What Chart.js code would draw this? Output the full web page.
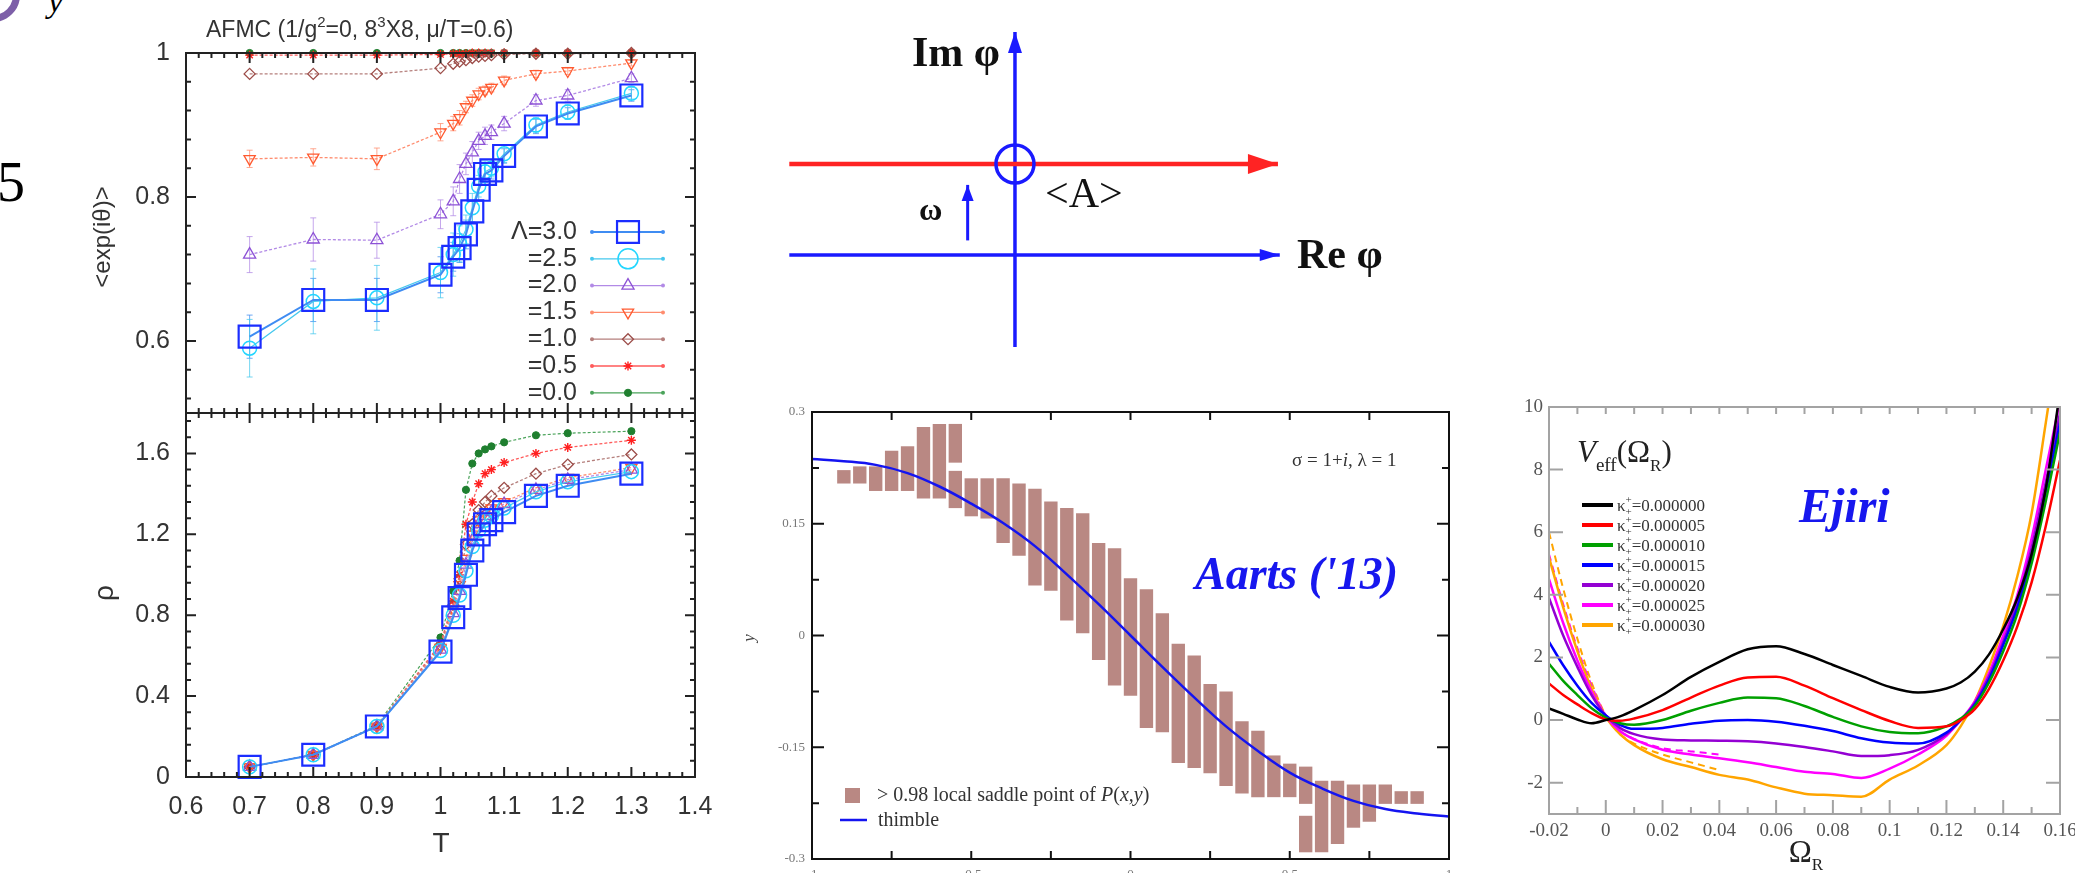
<!DOCTYPE html>
<html>
<head>
<meta charset="utf-8">
<script src="https://cdn.jsdelivr.net/npm/chart.js@4.4.1/dist/chart.umd.min.js"></script>
<style>
  html, body { margin: 0; padding: 0; background: #fff; }
  body { width: 2075px; height: 873px; position: relative; overflow: hidden; }
  canvas { position: absolute; }
  .slide { position: absolute; color: #000; font-family: 'Liberation Serif', serif; line-height: 1; }
  #ring { position: absolute; left: -34px; top: -32px; width: 40px; height: 40px; border: 7px solid #7d5fa8; border-radius: 50%; }
</style>
</head>
<body>
<div id="ring"></div>
<div class="slide" style="left:48px;top:-16px;font-size:34px;font-style:italic">y</div>
<div class="slide" style="left:-3px;top:154px;font-size:56px">5</div>

<canvas id="phase" width="760" height="420" style="left:0;top:0"></canvas>
<canvas id="rho" width="760" height="468" style="left:0;top:405px"></canvas>
<canvas id="plane" width="660" height="380" style="left:760px;top:0"></canvas>
<canvas id="aarts" width="800" height="493" style="left:700px;top:380px"></canvas>
<canvas id="ejiri" width="595" height="503" style="left:1480px;top:370px"></canvas>

<script>
// ---------- AFMC panel: phase factor and density vs T ----------
const T = [0.7, 0.8, 0.9, 1.0, 1.02, 1.03, 1.04, 1.05, 1.06, 1.07, 1.08, 1.1, 1.15, 1.2, 1.3];
const lambdas = ['3.0', '2.5', '2.0', '1.5', '1.0', '0.5', '0.0'];

const phase30 = [0.606, 0.657, 0.657, 0.692, 0.717, 0.729, 0.748, 0.78, 0.81, 0.832, 0.837, 0.857, 0.898, 0.916, 0.941];
const phase25 = [0.59, 0.655, 0.66, 0.695, 0.72, 0.735, 0.755, 0.785, 0.815, 0.835, 0.84, 0.86, 0.9, 0.918, 0.944];
const phase20 = [0.72, 0.741, 0.74, 0.776, 0.794, 0.825, 0.846, 0.862, 0.878, 0.885, 0.89, 0.902, 0.934, 0.941, 0.965];
const phase15 = [0.853, 0.855, 0.853, 0.89, 0.902, 0.91, 0.925, 0.934, 0.943, 0.948, 0.952, 0.962, 0.971, 0.975, 0.986];
const phase10 = [0.971, 0.971, 0.971, 0.979, 0.985, 0.988, 0.99, 0.993, 0.995, 0.996, 0.997, 0.998, 0.999, 0.999, 1.0];
const phase05 = [0.997, 0.997, 0.997, 0.998, 0.999, 0.999, 0.999, 1, 1, 1, 1, 1, 1, 1, 1];
const phase00 = [1, 1, 1, 1, 1, 1, 1, 1, 1, 1, 1, 1, 1, 1, 1];

const err30 = [0.03, 0.03, 0.03, 0.025, 0.02, 0.02, 0.02, 0.015, 0.015, 0.012, 0.012, 0.01, 0.01, 0.008, 0.008];
const err25 = [0.04, 0.045, 0.045, 0.035, 0.03, 0.025, 0.02, 0.02, 0.015, 0.015, 0.012, 0.012, 0.01, 0.01, 0.008];
const err20 = [0.025, 0.03, 0.025, 0.02, 0.02, 0.02, 0.015, 0.015, 0.012, 0.012, 0.01, 0.01, 0.008, 0.008, 0.006];
const err15 = [0.012, 0.012, 0.015, 0.012, 0.01, 0.01, 0.008, 0.008, 0.008, 0.006, 0.006, 0.006, 0.005, 0.005, 0.004];

const rho30 = [0.05, 0.11, 0.25, 0.62, 0.79, 0.885, 1.0, 1.12, 1.2, 1.25, 1.27, 1.31, 1.39, 1.44, 1.5];
const rho25 = [0.05, 0.11, 0.25, 0.625, 0.8, 0.9, 1.02, 1.14, 1.22, 1.27, 1.29, 1.33, 1.41, 1.46, 1.51];
const rho20 = [0.05, 0.11, 0.25, 0.63, 0.81, 0.92, 1.05, 1.17, 1.25, 1.29, 1.31, 1.35, 1.42, 1.47, 1.52];
const rho15 = [0.05, 0.11, 0.25, 0.64, 0.83, 0.95, 1.08, 1.2, 1.27, 1.31, 1.33, 1.36, 1.43, 1.48, 1.53];
const rho10 = [0.05, 0.11, 0.25, 0.65, 0.85, 0.98, 1.15, 1.25, 1.32, 1.36, 1.39, 1.43, 1.5, 1.545, 1.595];
const rho05 = [0.05, 0.11, 0.25, 0.66, 0.87, 1.0, 1.25, 1.36, 1.45, 1.5, 1.52, 1.555, 1.6, 1.63, 1.665];
const rho00 = [0.05, 0.11, 0.255, 0.69, 0.92, 1.07, 1.42, 1.55, 1.6, 1.62, 1.635, 1.655, 1.69, 1.70, 1.71];

const tTicks = [0.6, 0.7, 0.8, 0.9, 1.0, 1.1, 1.2, 1.3, 1.4];
const tLabels = ['0.6', '0.7', '0.8', '0.9', '1', '1.1', '1.2', '1.3', '1.4'];
const phaseTicks = [0.6, 0.8, 1.0];
const phaseLabels = ['0.6', '0.8', '1'];
const rhoTicks = [0, 0.4, 0.8, 1.2, 1.6];
const rhoLabels = ['0', '0.4', '0.8', '1.2', '1.6'];

// ---------- complex plane sketch ----------
const reAxisX = [-2.48, 2.91];      // Re phi axis, at Im = 0
const contourX = [-2.48, 2.89];     // shifted contour, at Im = omega
const contourIm = 1.0;
const imAxisY = [-1.01, 2.45];      // Im phi axis, at Re = 0
const saddleRe = 0, saddleIm = 1.0;
const omegaRe = -0.52, omegaY = [0.16, 0.77];

// ---------- Aarts ('13) ----------
const saddleX = [-0.9, -0.85, -0.8, -0.75, -0.7, -0.65, -0.6, -0.55, -0.5, -0.45, -0.4, -0.35, -0.3, -0.25, -0.2, -0.15, -0.1, -0.05, 0,
  0.05, 0.1, 0.15, 0.2, 0.25, 0.3, 0.35, 0.4, 0.45, 0.5, 0.55, 0.6, 0.65, 0.7, 0.75, 0.8, 0.85, 0.9];
const saddleHi = [0.222, 0.227, 0.227, 0.248, 0.254, 0.280, 0.284, 0.221, 0.211, 0.211, 0.211, 0.204, 0.197, 0.180, 0.171, 0.164, 0.124, 0.117, 0.077,
  0.062, 0.030, -0.011, -0.027, -0.065, -0.075, -0.115, -0.128, -0.161, -0.172, -0.176, -0.195, -0.195, -0.200, -0.200, -0.200, -0.209, -0.209];
const saddleLo = [0.204, 0.204, 0.194, 0.194, 0.194, 0.184, 0.184, 0.171, 0.160, 0.157, 0.124, 0.107, 0.067, 0.060, 0.020, 0.003, -0.033, -0.067, -0.081,
  -0.124, -0.130, -0.171, -0.178, -0.185, -0.202, -0.212, -0.217, -0.217, -0.217, -0.226, -0.291, -0.280, -0.258, -0.250, -0.226, -0.226, -0.226];
const extraX = [-0.55, 0.55];
const extraHi = [0.284, -0.242];
const extraLo = [0.232, -0.291];
const thimbleX = [-1, -0.9, -0.8, -0.7, -0.6, -0.5, -0.4, -0.3, -0.2, -0.1, 0, 0.1, 0.2, 0.3, 0.4, 0.5, 0.6, 0.7, 0.8, 0.9, 1];
const thimbleY = [0.237, 0.234, 0.229, 0.218, 0.200, 0.177, 0.151, 0.120, 0.082, 0.042, 0, -0.042, -0.083, -0.122, -0.155, -0.184, -0.205, -0.222, -0.233, -0.239, -0.243];
const aartsXTicks = [-1, -0.5, 0, 0.5, 1];
const aartsXLabels = ['-1', '-0.5', '0', '0.5', '1'];
const aartsYTicks = [-0.3, -0.15, 0, 0.15, 0.3];
const aartsYLabels = ['-0.3', '-0.15', '0', '0.15', '0.3'];

// ---------- Ejiri V_eff ----------
const omegaR = [-0.02, -0.015, -0.01, -0.005, 0, 0.005, 0.01, 0.02, 0.03, 0.04, 0.05, 0.06, 0.07, 0.08, 0.09, 0.1, 0.11, 0.12, 0.125, 0.13, 0.135, 0.14, 0.145, 0.15, 0.155, 0.16];
const kappas = ['0.000000', '0.000005', '0.000010', '0.000015', '0.000020', '0.000025', '0.000030'];
const veff0 = [0.37, 0.2, 0.02, -0.1, 0.0, 0.12, 0.32, 0.8, 1.38, 1.86, 2.26, 2.36, 2.11, 1.76, 1.41, 1.06, 0.88, 1.01, 1.2, 1.55, 2.1, 2.9, 3.9, 5.3, 7.4, 10.5];
const veff5 = [1.17, 0.8, 0.5, 0.22, 0.02, -0.02, 0.05, 0.32, 0.72, 1.1, 1.36, 1.38, 1.1, 0.7, 0.32, -0.03, -0.25, -0.2, 0.0, 0.35, 1.0, 1.9, 3.0, 4.4, 6.2, 8.3];
const veff10 = [1.8, 1.25, 0.8, 0.38, 0.08, -0.1, -0.15, 0.0, 0.3, 0.55, 0.72, 0.7, 0.45, 0.1, -0.2, -0.38, -0.42, -0.2, 0.05, 0.45, 1.2, 2.2, 3.4, 5.0, 7.0, 9.2];
const veff15 = [2.5, 1.75, 1.1, 0.55, 0.15, -0.15, -0.28, -0.25, -0.12, -0.02, 0.0, -0.05, -0.18, -0.35, -0.58, -0.72, -0.75, -0.4, 0.0, 0.5, 1.3, 2.4, 3.6, 5.2, 7.3, 9.5];
const veff20 = [3.9, 2.7, 1.7, 0.8, 0.15, -0.25, -0.45, -0.62, -0.65, -0.66, -0.68, -0.75, -0.86, -1.0, -1.15, -1.12, -0.95, -0.45, 0.0, 0.55, 1.4, 2.5, 3.8, 5.5, 7.6, 9.8];
const veff25 = [4.5, 3.1, 1.9, 0.9, 0.12, -0.35, -0.62, -0.95, -1.1, -1.22, -1.35, -1.5, -1.65, -1.72, -1.85, -1.55, -1.1, -0.5, 0.0, 0.6, 1.5, 2.7, 4.0, 5.8, 8.0, 10.2];
const veff30 = [5.2, 3.6, 2.2, 1.0, 0.1, -0.45, -0.8, -1.25, -1.5, -1.75, -1.9, -2.15, -2.35, -2.4, -2.45, -1.9, -1.45, -0.8, -0.2, 0.6, 1.7, 3.0, 4.6, 6.6, 9.5, 12.5];
const omegaDash = [-0.02, -0.015, -0.01, -0.005, 0, 0.005, 0.01, 0.02, 0.03, 0.04];
const veff25Dash = [5.3, 3.7, 2.3, 1.1, 0.15, -0.35, -0.6, -0.9, -1.0, -1.1];
const veff30Dash = [6.0, 4.2, 2.6, 1.2, 0.15, -0.45, -0.75, -1.1, -1.35, -1.6];
const ejiriXTicks = [-0.02, 0, 0.02, 0.04, 0.06, 0.08, 0.1, 0.12, 0.14, 0.16];
const ejiriXLabels = ['-0.02', '0', '0.02', '0.04', '0.06', '0.08', '0.1', '0.12', '0.14', '0.16'];
const ejiriYTicks = [-2, 0, 2, 4, 6, 8, 10];
const ejiriYLabels = ['-2', '0', '2', '4', '6', '8', '10'];

// ---------- styles ----------
const lamStyle = [
  {line: '#3f8cf2', point: '#1b2dff', style: 'rect', r: 15.5, w: 2.2, lw: 2},
  {line: '#45c8ee', point: '#22d6ff', style: 'circle', r: 7, lr: 10, w: 1.5, lw: 1.2},
  {line: '#b28ae6', point: '#8d52d6', style: 'triangle', r: 7, w: 1.3, lw: 1.3, dash: [3, 2]},
  {line: '#ff8c6e', point: '#ff5a30', style: 'triangle', rot: 180, r: 6.5, w: 1.3, lw: 1.3, dash: [3, 2]},
  {line: '#b57f7c', point: '#9c4c48', style: 'rectRot', r: 5.5, w: 1.3, lw: 1.3, dash: [3, 2]},
  {line: '#ff5a5a', point: '#ff1f1f', style: 'star', r: 4.5, w: 1.4, lw: 1.3, dash: [3, 2]},
  {line: '#4aa35a', point: '#1f7f2f', style: 'circle', r: 3.6, w: 1, lw: 1.2, dash: [3, 2], filled: true}
];
const kappaColors = ['#000000', '#ff0000', '#00a000', '#0000ff', '#9400d3', '#ff00ff', '#ffa500'];
const sans = "'Liberation Sans', Arial, sans-serif";
const serif = "'Liberation Serif', 'Times New Roman', serif";

function steps(a, b, d) {
  const out = [];
  for (let v = a; v <= b + 1e-9; v += d) out.push(Math.round(v * 1000) / 1000);
  return out;
}
function without(list, major) {
  return list.filter(v => !major.some(m => Math.abs(m - v) < 1e-6));
}

// ---------- drawing helpers ----------
function drawRich(ctx, it) {
  const parts = it.parts || [{t: it.text}];
  ctx.save();
  ctx.fillStyle = it.color || '#222';
  ctx.textBaseline = it.baseline || 'alphabetic';
  let w = 0;
  const widths = parts.map(p => {
    ctx.font = p.font || it.font;
    const pw = ctx.measureText(p.t).width;
    if (!p.stay) w += pw;
    return pw;
  });
  ctx.translate(it.x, it.y);
  if (it.rotate) ctx.rotate(it.rotate);
  let x = it.align === 'center' ? -w / 2 : it.align === 'right' ? -w : 0;
  parts.forEach((p, i) => {
    ctx.font = p.font || it.font;
    ctx.fillText(p.t, x, p.dy || 0);
    if (!p.stay) x += widths[i];
  });
  ctx.restore();
}

function marker(ctx, st, x, y, r) {
  ctx.save();
  ctx.strokeStyle = st.point;
  ctx.fillStyle = st.filled ? st.point : 'rgba(0,0,0,0)';
  ctx.lineWidth = st.w;
  if (Chart.helpers && Chart.helpers.drawPoint) {
    Chart.helpers.drawPoint(ctx, {pointStyle: st.style, radius: r || st.r, rotation: st.rot || 0, borderWidth: st.w}, x, y);
  } else {
    ctx.beginPath(); ctx.arc(x, y, r || st.r, 0, Math.PI * 2); ctx.fill(); ctx.stroke();
  }
  ctx.restore();
}

// per-canvas decorations: frame with inward ticks, texts, legends
const decor = {};

const framePlugin = {
  id: 'frameTicks',
  afterDatasetsDraw(chart) {
    const d = decor[chart.canvas.id];
    if (!d || !d.frame) return;
    const f = d.frame, a = chart.chartArea, ctx = chart.ctx;
    ctx.save();
    ctx.strokeStyle = f.color;
    ctx.lineWidth = f.width;
    ctx.strokeRect(a.left, a.top, a.right - a.left, a.bottom - a.top);
    f.marks.forEach(m => {
      const s = chart.scales[m.axis];
      ctx.lineWidth = m.width || f.width;
      ctx.beginPath();
      m.values.forEach(v => {
        const p = s.getPixelForValue(v);
        if (m.axis === 'x') {
          if (m.sides.includes('bottom')) { ctx.moveTo(p, a.bottom); ctx.lineTo(p, a.bottom - m.len); }
          if (m.sides.includes('top')) { ctx.moveTo(p, a.top); ctx.lineTo(p, a.top + m.len); }
        } else {
          if (m.sides.includes('left')) { ctx.moveTo(a.left, p); ctx.lineTo(a.left + m.len, p); }
          if (m.sides.includes('right')) { ctx.moveTo(a.right, p); ctx.lineTo(a.right - m.len, p); }
        }
      });
      ctx.stroke();
    });
    ctx.restore();
  },
  afterDraw(chart) {
    const d = decor[chart.canvas.id];
    if (!d) return;
    (d.texts || []).forEach(it => drawRich(chart.ctx, it));
    if (d.legend) d.legend(chart.ctx, chart);
  }
};

const errorBars = {
  id: 'errorBars',
  beforeDatasetsDraw(chart) {
    const ctx = chart.ctx, ys = chart.scales.y;
    chart.data.datasets.forEach((ds, i) => {
      if (!ds.err) return;
      const meta = chart.getDatasetMeta(i);
      ctx.save();
      ctx.strokeStyle = ds.borderColor;
      ctx.globalAlpha = 0.75;
      ctx.lineWidth = 1;
      ctx.beginPath();
      meta.data.forEach((pt, j) => {
        const v = ds.data[j].y, e = ds.err[j];
        const y1 = ys.getPixelForValue(v - e), y2 = ys.getPixelForValue(v + e);
        ctx.moveTo(pt.x, y1); ctx.lineTo(pt.x, y2);
        ctx.moveTo(pt.x - 3, y1); ctx.lineTo(pt.x + 3, y1);
        ctx.moveTo(pt.x - 3, y2); ctx.lineTo(pt.x + 3, y2);
      });
      ctx.stroke();
      ctx.restore();
    });
  }
};

const arrowHeads = {
  id: 'arrowHeads',
  afterDatasetsDraw(chart) {
    const ctx = chart.ctx;
    chart.data.datasets.forEach((ds, i) => {
      if (!ds.arrow) return;
      const pts = chart.getDatasetMeta(i).data;
      const a = pts[pts.length - 2], b = pts[pts.length - 1];
      const ang = Math.atan2(b.y - a.y, b.x - a.x);
      ctx.save();
      ctx.translate(b.x, b.y);
      ctx.rotate(ang);
      ctx.fillStyle = ds.borderColor;
      ctx.beginPath();
      ctx.moveTo(0, 0);
      ctx.lineTo(-ds.arrow.len, -ds.arrow.half);
      ctx.lineTo(-ds.arrow.len, ds.arrow.half);
      ctx.closePath();
      ctx.fill();
      ctx.restore();
    });
  }
};

Chart.register(framePlugin, errorBars, arrowHeads);
Chart.defaults.font.family = sans;

const base = {
  responsive: false,
  animation: false,
  events: [],
  plugins: {legend: {display: false}, tooltip: {enabled: false}, title: {display: false}}
};

function axis(extra) {
  return Object.assign({
    type: 'linear',
    grid: {display: false, drawTicks: false},
    border: {display: false}
  }, extra);
}

// ================= AFMC phase factor =================
function lamDatasets(series, errs) {
  return series.map((vals, k) => {
    const st = lamStyle[k];
    return {
      label: 'Λ=' + lambdas[k],
      data: T.map((t, i) => ({x: t, y: vals[i]})),
      err: errs ? errs[k] : null,
      borderColor: st.line,
      borderWidth: st.lw,
      borderDash: st.dash || [],
      pointStyle: st.style,
      pointRotation: st.rot || 0,
      pointRadius: st.r,
      pointBorderColor: st.point,
      pointBorderWidth: st.w,
      pointBackgroundColor: st.filled ? st.point : 'rgba(0,0,0,0)',
      tension: 0,
      clip: false
    };
  });
}

const tMinor = without(steps(0.6, 1.4, 0.02), tTicks);

decor.phase = {
  frame: {color: '#222', width: 2, marks: [
    {axis: 'x', values: tTicks, len: 10, sides: ['top', 'bottom']},
    {axis: 'x', values: tMinor, len: 5, sides: ['top', 'bottom']},
    {axis: 'y', values: phaseTicks, len: 10, sides: ['left', 'right']},
    {axis: 'y', values: without(steps(0.52, 0.96, 0.04), phaseTicks), len: 5, sides: ['left', 'right']}
  ]},
  texts: [
    {parts: [{t: 'AFMC (1/g'}, {t: '2', font: '15px ' + sans, dy: -10}, {t: '=0, 8'}, {t: '3', font: '15px ' + sans, dy: -10}, {t: 'X8, μ/T=0.6)'}],
      x: 206, y: 37, font: '23px ' + sans, color: '#333'},
    {text: '<exp(iθ)>', x: 103, y: 237, rotate: -Math.PI / 2, align: 'center', baseline: 'middle', font: '24px ' + sans, color: '#333'}
  ],
  legend(ctx) {
    lambdas.forEach((lam, k) => {
      const st = lamStyle[k], y = 232 + k * 26.8;
      drawRich(ctx, {text: (k === 0 ? 'Λ=' : '=') + lam, x: 577, y: y, align: 'right', baseline: 'middle', font: '25px ' + sans, color: '#333'});
      ctx.save();
      ctx.strokeStyle = st.line;
      ctx.fillStyle = st.line;
      ctx.lineWidth = st.lw;
      ctx.beginPath(); ctx.moveTo(592, y); ctx.lineTo(663, y); ctx.stroke();
      [592, 663].forEach(x => { ctx.beginPath(); ctx.arc(x, y, 2, 0, Math.PI * 2); ctx.fill(); });
      ctx.restore();
      marker(ctx, st, 628, y, st.lr || st.r);
    });
  }
};

new Chart(document.getElementById('phase'), {
  type: 'line',
  data: {datasets: lamDatasets([phase30, phase25, phase20, phase15, phase10, phase05, phase00], [err30, err25, err20, err15, null, null, null])},
  options: Object.assign({}, base, {
    layout: {padding: {top: 53, right: 65, bottom: 7, left: 0}, autoPadding: false},
    scales: {
      x: {type: 'linear', min: 0.6, max: 1.4, display: false},
      y: axis({
        min: 0.5, max: 1.0,
        afterBuildTicks: s => { s.ticks = phaseTicks.map(v => ({value: v})); },
        ticks: {padding: 16, color: '#333', autoSkip: false, font: {size: 25}, callback: (v, i) => phaseLabels[i]},
        afterFit: s => { s.width = 186; s.paddingTop = 0; s.paddingBottom = 0; }
      })
    }
  })
});

// ================= AFMC density =================
decor.rho = {
  frame: {color: '#222', width: 2, marks: [
    {axis: 'x', values: tTicks, len: 10, sides: ['top', 'bottom']},
    {axis: 'x', values: tMinor, len: 5, sides: ['top', 'bottom']},
    {axis: 'y', values: rhoTicks, len: 10, sides: ['left', 'right']},
    {axis: 'y', values: without(steps(0.08, 1.76, 0.08), rhoTicks), len: 5, sides: ['left', 'right']}
  ]},
  texts: [
    {text: 'ρ', x: 105, y: 188, rotate: -Math.PI / 2, align: 'center', baseline: 'middle', font: '28px ' + sans, color: '#333'},
    {text: 'T', x: 441, y: 447, align: 'center', font: '28px ' + sans, color: '#333'}
  ]
};

new Chart(document.getElementById('rho'), {
  type: 'line',
  data: {datasets: lamDatasets([rho30, rho25, rho20, rho15, rho10, rho05, rho00], null)},
  options: Object.assign({}, base, {
    layout: {padding: {top: 8, right: 65, bottom: 0, left: 0}, autoPadding: false},
    scales: {
      x: axis({
        min: 0.6, max: 1.4,
        afterBuildTicks: s => { s.ticks = tTicks.map(v => ({value: v})); },
        ticks: {padding: 15, color: '#333', autoSkip: false, maxRotation: 0, font: {size: 25}, callback: (v, i) => tLabels[i]},
        afterFit: s => { s.height = 96; s.paddingLeft = 0; s.paddingRight = 0; }
      }),
      y: axis({
        min: 0, max: 1.8,
        afterBuildTicks: s => { s.ticks = rhoTicks.map(v => ({value: v})); },
        ticks: {padding: 16, color: '#333', autoSkip: false, font: {size: 25}, callback: (v, i) => rhoLabels[i]},
        afterFit: s => { s.width = 186; s.paddingTop = 0; s.paddingBottom = 0; }
      })
    }
  })
});

// ================= complex plane sketch =================
const boldSerif = 'bold 42px ' + serif;
decor.plane = {
  texts: [
    {text: 'Im φ', x: 152, y: 66, font: boldSerif, color: '#111'},
    {text: 'Re φ', x: 537, y: 268, font: boldSerif, color: '#111'},
    {text: '<A>', x: 285, y: 207, font: '42px ' + serif, color: '#111'},
    {text: 'ω', x: 159, y: 220, font: 'bold 32px ' + serif, color: '#111'}
  ]
};

new Chart(document.getElementById('plane'), {
  type: 'scatter',
  data: {datasets: [
    {data: [{x: saddleRe, y: saddleIm}], pointRadius: 19, pointBorderWidth: 3.5, pointBorderColor: '#1a1aff', pointBackgroundColor: 'rgba(0,0,0,0)', showLine: false},
    {data: contourX.map(x => ({x, y: contourIm})), showLine: true, borderColor: '#ff2323', borderWidth: 4.5, pointRadius: 0, arrow: {len: 30, half: 10}},
    {data: reAxisX.map(x => ({x, y: 0})), showLine: true, borderColor: '#1a1aff', borderWidth: 3.5, pointRadius: 0, arrow: {len: 20, half: 6}},
    {data: imAxisY.map(y => ({x: 0, y})), showLine: true, borderColor: '#1a1aff', borderWidth: 3.5, pointRadius: 0, arrow: {len: 21, half: 7}},
    {data: omegaY.map(y => ({x: omegaRe, y})), showLine: true, borderColor: '#1a1aff', borderWidth: 3, pointRadius: 0, arrow: {len: 16, half: 6}}
  ]},
  options: Object.assign({}, base, {
    layout: {padding: 0, autoPadding: false},
    scales: {
      x: {type: 'linear', display: false, min: -2.802, max: 4.451},
      y: {type: 'linear', display: false, min: -1.374, max: 2.802}
    }
  })
});

// ================= Aarts ('13) =================
decor.aarts = {
  frame: {color: '#111', width: 2, marks: [
    {axis: 'x', values: [-0.75, -0.5, -0.25, 0, 0.25, 0.5, 0.75], len: 8, sides: ['top', 'bottom']},
    {axis: 'y', values: [-0.15, 0, 0.15], len: 12, sides: ['left', 'right']},
    {axis: 'y', values: [-0.225, -0.075, 0.075, 0.225], len: 7, sides: ['left', 'right']}
  ]},
  texts: [
    {text: 'y', x: 50, y: 258, rotate: -Math.PI / 2, align: 'center', baseline: 'middle', font: 'italic 17px ' + serif, color: '#444'},
    {parts: [{t: 'σ = 1+'}, {t: 'i', font: 'italic 19px ' + serif}, {t: ', λ = 1'}], x: 592, y: 86, font: '19px ' + serif, color: '#333'},
    {text: "Aarts ('13)", x: 495, y: 209, font: 'bold italic 46px ' + serif, color: '#1717ee'},
    {parts: [{t: '> 0.98 local saddle point of '}, {t: 'P', font: 'italic 20px ' + serif}, {t: '('}, {t: 'x,y', font: 'italic 20px ' + serif}, {t: ')'}],
      x: 177, y: 421, font: '20px ' + serif, color: '#333'},
    {text: 'thimble', x: 178, y: 446, font: '20px ' + serif, color: '#333'}
  ],
  legend(ctx) {
    ctx.save();
    ctx.fillStyle = '#b98883';
    ctx.fillRect(145, 408, 15, 15);
    ctx.strokeStyle = '#1414f0';
    ctx.lineWidth = 2.5;
    ctx.beginPath(); ctx.moveTo(140, 440); ctx.lineTo(167, 440); ctx.stroke();
    ctx.restore();
  }
};

const barStyle = {backgroundColor: '#b98883', borderWidth: 0, grouped: false, barPercentage: 0.84, categoryPercentage: 1, order: 2};
new Chart(document.getElementById('aarts'), {
  type: 'bar',
  data: {datasets: [
    {type: 'line', data: thimbleX.map((x, i) => ({x, y: thimbleY[i]})), borderColor: '#1414f0', borderWidth: 2.5, pointRadius: 0, tension: 0.4, order: 0},
    Object.assign({data: saddleX.map((x, i) => ({x, y: [saddleLo[i], saddleHi[i]]}))}, barStyle),
    Object.assign({data: extraX.map((x, i) => ({x, y: [extraLo[i], extraHi[i]]}))}, barStyle)
  ]},
  options: Object.assign({}, base, {
    layout: {padding: {top: 32, right: 51, bottom: 0, left: 0}, autoPadding: false},
    scales: {
      x: axis({
        min: -1, max: 1, offset: false,
        afterBuildTicks: s => { s.ticks = aartsXTicks.map(v => ({value: v})); },
        ticks: {padding: 8, color: '#777', autoSkip: false, maxRotation: 0, font: {family: serif, size: 13}, callback: (v, i) => aartsXLabels[i]},
        afterFit: s => { s.height = 14; s.paddingLeft = 0; s.paddingRight = 0; }
      }),
      y: axis({
        min: -0.3, max: 0.3, beginAtZero: false,
        afterBuildTicks: s => { s.ticks = aartsYTicks.map(v => ({value: v})); },
        ticks: {padding: 7, color: '#777', autoSkip: false, font: {family: serif, size: 13}, callback: (v, i) => aartsYLabels[i]},
        afterFit: s => { s.width = 112; s.paddingTop = 0; s.paddingBottom = 0; }
      })
    }
  })
});

// ================= Ejiri =================
const kFont = '17px ' + serif, kSmall = '11px ' + serif;
decor.ejiri = {
  frame: {color: '#a3a3a3', width: 2, marks: [
    {axis: 'x', values: steps(-0.01, 0.15, 0.01), len: 7, sides: ['top']},
    {axis: 'x', values: ejiriXTicks, len: 14, sides: ['bottom']},
    {axis: 'x', values: without(steps(-0.01, 0.15, 0.01), ejiriXTicks), len: 7, sides: ['bottom']},
    {axis: 'y', values: ejiriYTicks, len: 14, sides: ['left', 'right']}
  ]},
  texts: [
    {parts: [{t: 'V', font: 'italic 31px ' + serif}, {t: 'eff', font: '19px ' + serif, dy: 9}, {t: '(Ω'}, {t: 'R', font: '17px ' + serif, dy: 9}, {t: ')'}],
      x: 97, y: 92, font: '31px ' + serif, color: '#222'},
    {text: 'Ejiri', x: 319, y: 152, font: 'bold italic 48px ' + serif, color: '#1717ee'},
    {parts: [{t: 'Ω'}, {t: 'R', font: '17px ' + serif, dy: 8}], x: 326, y: 492, align: 'center', font: '31px ' + serif, color: '#222'}
  ],
  legend(ctx) {
    kappas.forEach((k, i) => {
      const y = 135 + i * 20;
      ctx.save();
      ctx.strokeStyle = kappaColors[i];
      ctx.lineWidth = 4;
      ctx.beginPath(); ctx.moveTo(102, y); ctx.lineTo(133, y); ctx.stroke();
      ctx.restore();
      drawRich(ctx, {parts: [{t: 'κ'}, {t: '+', font: kSmall, dy: -8, stay: true}, {t: '+', font: kSmall, dy: 4}, {t: '=' + k}],
        x: 137, y: y + 6, font: kFont, color: '#333'});
    });
  }
};

const veffSets = [veff0, veff5, veff10, veff15, veff20, veff25, veff30];
const ejiriData = veffSets.map((vals, i) => ({
  label: 'κ=' + kappas[i],
  data: omegaR.map((x, j) => ({x, y: vals[j]})),
  borderColor: kappaColors[i], borderWidth: 2.5, pointRadius: 0, cubicInterpolationMode: 'monotone'
}));
ejiriData.push(
  {data: omegaDash.map((x, j) => ({x, y: veff25Dash[j]})), borderColor: kappaColors[5], borderWidth: 2, borderDash: [7, 5], pointRadius: 0, cubicInterpolationMode: 'monotone'},
  {data: omegaDash.map((x, j) => ({x, y: veff30Dash[j]})), borderColor: kappaColors[6], borderWidth: 2, borderDash: [7, 5], pointRadius: 0, cubicInterpolationMode: 'monotone'}
);

new Chart(document.getElementById('ejiri'), {
  type: 'line',
  data: {datasets: ejiriData},
  options: Object.assign({}, base, {
    layout: {padding: {top: 37, right: 15, bottom: 0, left: 0}, autoPadding: false},
    scales: {
      x: axis({
        min: -0.02, max: 0.16,
        afterBuildTicks: s => { s.ticks = ejiriXTicks.map(v => ({value: v})); },
        ticks: {padding: 6, color: '#555', autoSkip: false, maxRotation: 0, font: {family: serif, size: 19}, callback: (v, i) => ejiriXLabels[i]},
        afterFit: s => { s.height = 59; s.paddingLeft = 0; s.paddingRight = 0; }
      }),
      y: axis({
        min: -3, max: 10,
        afterBuildTicks: s => { s.ticks = ejiriYTicks.map(v => ({value: v})); },
        ticks: {padding: 6, color: '#555', autoSkip: false, font: {family: serif, size: 19}, callback: (v, i) => ejiriYLabels[i]},
        afterFit: s => { s.width = 69; s.paddingTop = 0; s.paddingBottom = 0; }
      })
    }
  })
});
</script>
</body>
</html>
